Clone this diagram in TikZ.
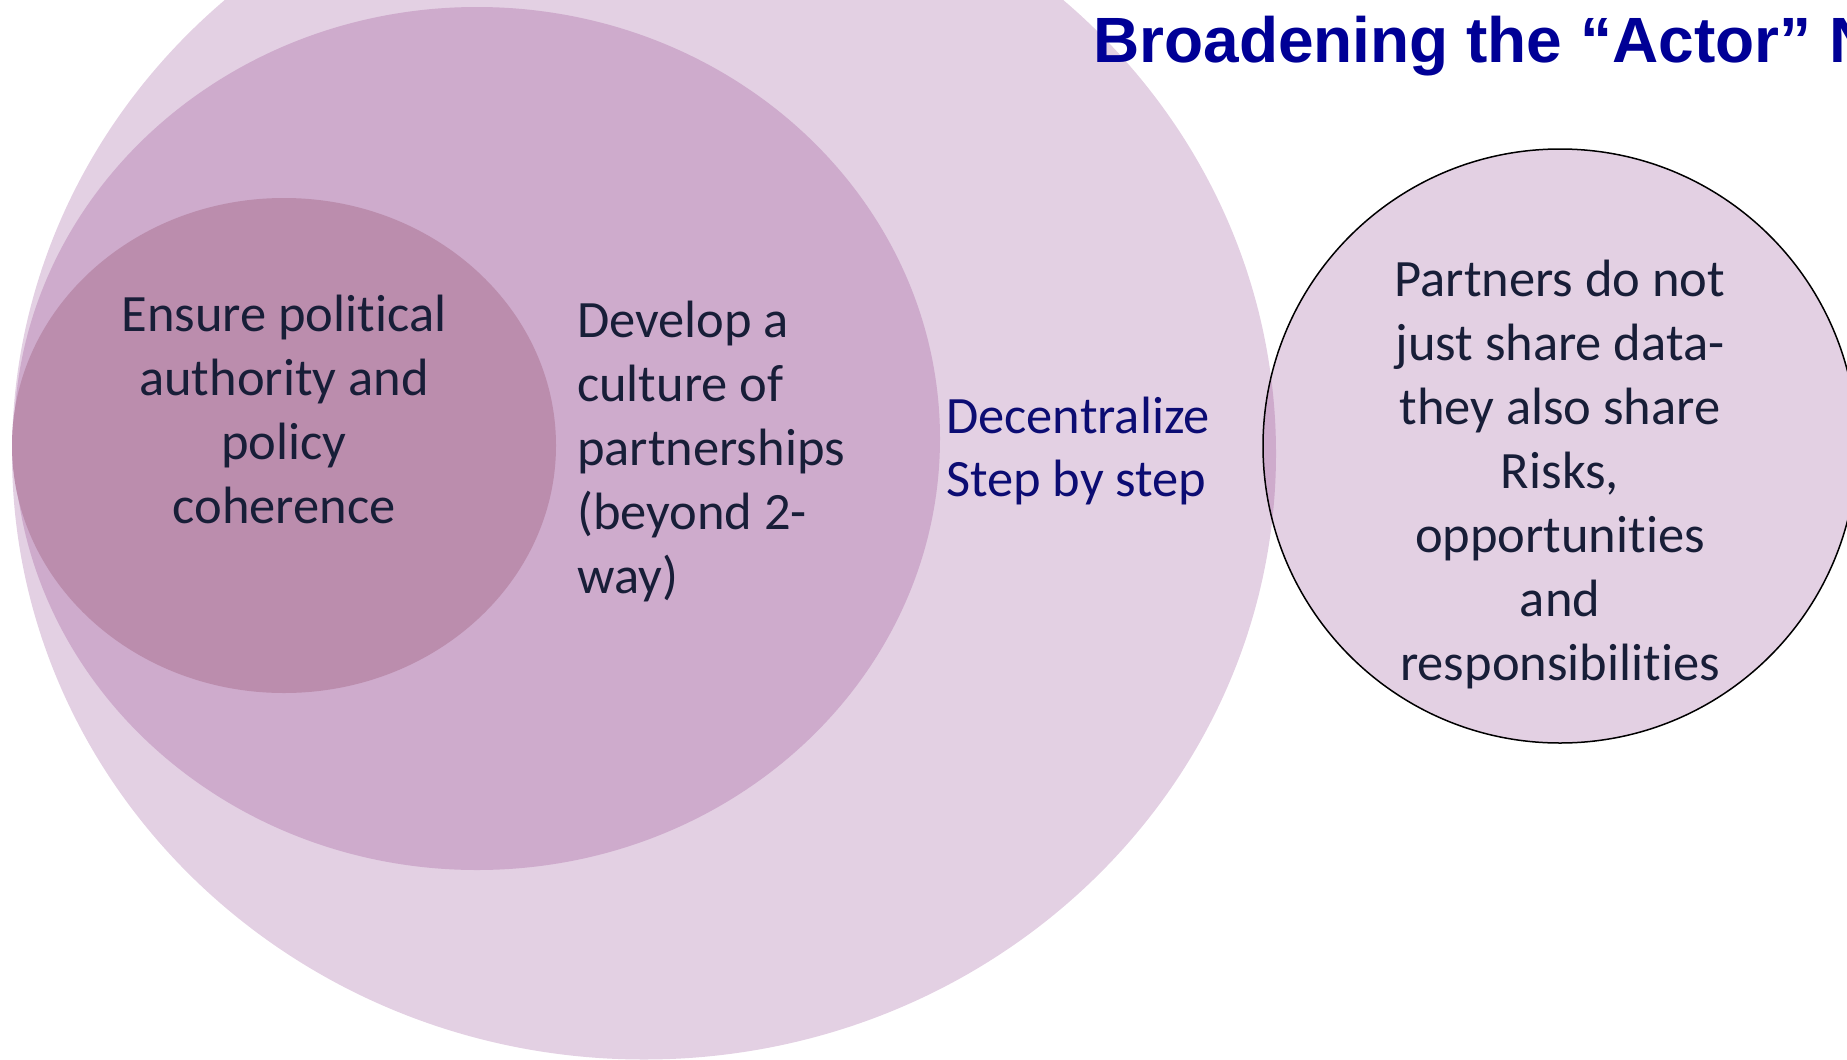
\documentclass[tikz,border=0pt]{standalone}
\usepackage{fontspec}
\setmainfont{Carlito}[Ligatures=NoCommon, RawFeature={-liga;-clig;-calt;-dlig}]
\newfontfamily\headfont{Liberation Sans}

\definecolor{lavlight}{RGB}{227,208,227}
\definecolor{lavmid}{RGB}{206,171,204}
\definecolor{lavdark}{RGB}{187,141,173}
\definecolor{inkc}{RGB}{24,30,56}
\definecolor{navyc}{RGB}{12,12,115}
\definecolor{titleblue}{RGB}{0,0,150}

\tikzset{
  bodytext/.style={inner sep=0pt, text=inkc, font=\fontsize{52.5}{64}\selectfont},
  headtext/.style={inner sep=0pt, text=titleblue, font=\headfont\bfseries\fontsize{64}{72}\selectfont},
}

\begin{document}
\begin{tikzpicture}[x=1pt,y=-1pt]
\useasboundingbox (0,0) rectangle (1847,1060);
\clip (0,0) rectangle (1847,1060);

% nested layers
\fill[lavlight] (644,453.5) ellipse [x radius=632, y radius=606];
\fill[lavmid]   (477,438.5) ellipse [x radius=463, y radius=431.5];
\fill[lavdark]  (284,445.5) ellipse [x radius=272, y radius=247.5];

% partner circle, with its overlap on the outer layer
\fill[lavlight] (1560,446) circle [radius=297];
\begin{scope}
  \clip (644,453.5) ellipse [x radius=632, y radius=606];
  \fill[lavmid] (1560,446) circle [radius=297];
\end{scope}
\draw[line width=1.5pt, black] (1560,446) circle [radius=297];

% labels
\node[bodytext, anchor=base] (core) at (284,331)
  {\parbox[t]{520pt}{\centering Ensure political\\authority and\\policy\\coherence}};
\node[bodytext, anchor=base west] (culture) at (577,337)
  {\parbox[t]{400pt}{\raggedright Develop a\\culture of\\partnerships\\(beyond 2-\\way)}};
\node[bodytext, text=navyc, anchor=base west] (decent) at (946,433)
  {\parbox[t]{320pt}{\raggedright\fontsize{52.5}{63}\selectfont Decentralize\\Step by step}};
\node[bodytext, anchor=base] (share) at (1560,296)
  {\parbox[t]{560pt}{\centering\fontsize{52.5}{64}\selectfont Partners do not\\just share data-\\they also share\\Risks,\\opportunities\\and\\responsibilities}};

\node[headtext, anchor=base west] (title) at (1093,62) {Broadening the “Actor” N};
\end{tikzpicture}
\end{document}
